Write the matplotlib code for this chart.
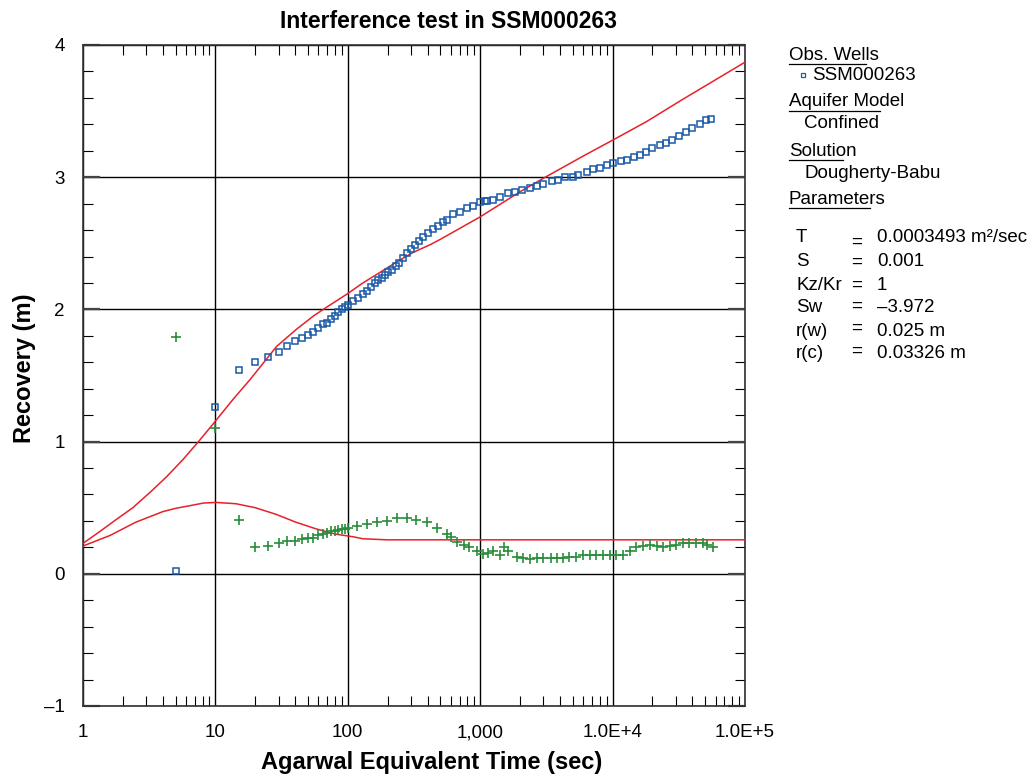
import numpy as np
import matplotlib
matplotlib.use('Agg')
import matplotlib.pyplot as plt
from matplotlib.lines import Line2D
from matplotlib.ticker import FixedLocator, FixedFormatter, NullFormatter

plt.rcParams['font.family'] = ['Liberation Sans', 'DejaVu Sans']

# ── données ────────────────────────────────────────────────────
obs_t = [5, 10, 15, 20, 25, 30, 35, 40, 45, 50, 55, 60, 65, 70, 75, 80, 85, 90, 95,
         100, 110, 120, 130, 140, 150, 160, 170, 180, 190, 200, 215, 230, 245, 260,
         280, 300, 320, 345, 370, 400, 440, 480, 520, 560, 620, 700, 790, 880, 1000,
         1080, 1120, 1250, 1400, 1620, 1830, 2080, 2360, 2680, 3000, 3500, 3900, 4400,
         5000, 5500, 6400, 7100, 8100, 9100, 10000, 11500, 12800, 14400, 16000, 18000,
         20000, 22700, 25400, 28000, 32000, 36000, 40000, 46000, 51000, 55000]
obs_y = [0.02, 1.26, 1.54, 1.60, 1.64, 1.68, 1.72, 1.76, 1.78, 1.81, 1.83, 1.86, 1.89,
         1.90, 1.93, 1.95, 1.98, 2.00, 2.02, 2.03, 2.06, 2.09, 2.12, 2.14, 2.17, 2.20,
         2.22, 2.24, 2.26, 2.28, 2.30, 2.33, 2.35, 2.39, 2.43, 2.46, 2.49, 2.52, 2.55,
         2.58, 2.61, 2.63, 2.66, 2.68, 2.72, 2.74, 2.77, 2.78, 2.81, 2.82, 2.82, 2.83,
         2.85, 2.88, 2.89, 2.90, 2.92, 2.93, 2.95, 2.97, 2.98, 3.00, 3.00, 3.02, 3.04,
         3.06, 3.07, 3.09, 3.11, 3.12, 3.13, 3.15, 3.17, 3.19, 3.22, 3.24, 3.26, 3.28,
         3.31, 3.34, 3.37, 3.40, 3.43, 3.44]

der_t = [5, 10, 15, 20, 25, 30, 35, 40, 45, 50, 55, 60, 65, 70, 75, 80, 85, 90, 95,
         100, 117, 140, 165, 197, 235, 280, 330, 395, 470, 560, 600, 670, 750, 830,
         940, 1050, 1150, 1250, 1400, 1500, 1620, 1900, 2100, 2370, 2680, 3000, 3400,
         3800, 4200, 4700, 5300, 6000, 6700, 7500, 8500, 9500, 10700, 12000, 13500,
         15000, 17000, 19000, 21500, 24000, 27000, 30000, 34000, 38000, 43000, 48000,
         52000, 57000]
der_y = [1.79, 1.10, 0.41, 0.20, 0.21, 0.23, 0.25, 0.25, 0.26, 0.27, 0.27, 0.29, 0.30,
         0.31, 0.32, 0.32, 0.33, 0.34, 0.34, 0.35, 0.36, 0.38, 0.39, 0.40, 0.42, 0.42,
         0.41, 0.39, 0.35, 0.30, 0.28, 0.24, 0.22, 0.20, 0.17, 0.15, 0.16, 0.17, 0.14,
         0.20, 0.17, 0.13, 0.12, 0.11, 0.12, 0.12, 0.12, 0.12, 0.12, 0.13, 0.13, 0.14,
         0.14, 0.14, 0.14, 0.14, 0.14, 0.14, 0.17, 0.20, 0.21, 0.22, 0.21, 0.20, 0.21,
         0.22, 0.23, 0.23, 0.23, 0.23, 0.22, 0.20]

mod_t = [1, 1.34, 1.78, 2.38, 3.2, 4.24, 5.7, 7.6, 10.1, 13.6, 18.3, 29, 41, 55, 70,
         100, 130, 175, 235, 310, 420, 500, 1000, 2000, 3100, 6000, 10000, 18000,
         34000, 50000, 100000]
mod_y = [0.23, 0.32, 0.41, 0.50, 0.615, 0.73, 0.865, 1.01, 1.16, 1.32, 1.47, 1.72, 1.85,
         1.95, 2.02, 2.12, 2.20, 2.28, 2.36, 2.43, 2.49, 2.53, 2.70, 2.89, 3.00, 3.16,
         3.28, 3.42, 3.59, 3.69, 3.87]

dmod_t = [1, 1.6, 2.5, 4.0, 5.0, 6.4, 8.1, 10.1, 14.3, 20, 28.7, 40.6, 57.6, 81, 110,
          130, 197, 100000]
dmod_y = [0.21, 0.29, 0.39, 0.47, 0.495, 0.515, 0.535, 0.54, 0.53, 0.50, 0.45, 0.39,
          0.34, 0.30, 0.28, 0.265, 0.257, 0.257]

xticks = [1, 10, 100, 1000, 1e4, 1e5]
xlabels = ['1', '10', '100', '1,000', '1.0E+4', '1.0E+5']
yticks = [-1, 0, 1, 2, 3, 4]
ylabels = ['\u20131', '0', '1', '2', '3', '4']

params = [('T', '0.0003493 m\u00b2/sec'), ('S', '0.001'), ('Kz/Kr', '1'),
          ('Sw', '\u20133.972'), ('r(w)', '0.025 m'), ('r(c)', '0.03326 m')]

BLUE = '#1a5aa8'
GREEN = '#2a8c3c'
RED = '#e8202a'

W, H = 1029, 776
fig = plt.figure(figsize=(W / 100, H / 100), dpi=100)
ax = fig.add_axes([83 / W, 1 - 706 / H, (745 - 83) / W, (706 - 45) / H])

ax.plot(mod_t, mod_y, color=RED, lw=1.1, zorder=3)
ax.plot(dmod_t, dmod_y, color=RED, lw=1.1, zorder=3)
ax.plot(obs_t, obs_y, ls='none', marker='s', ms=4.7, mfc='none', mec=BLUE, mew=1.1, zorder=4)
ax.plot(der_t, der_y, ls='none', marker='+', ms=7, color=GREEN, mew=1.2, zorder=4)

ax.set_xscale('log')
ax.set_xlim(1, 1e5)
ax.set_ylim(-1, 4)
ax.xaxis.set_major_locator(FixedLocator(xticks))
ax.xaxis.set_major_formatter(FixedFormatter(xlabels))
minors = [m * 10 ** d for d in range(5) for m in range(2, 10)]
ax.xaxis.set_minor_locator(FixedLocator(minors))
ax.xaxis.set_minor_formatter(NullFormatter())
ax.yaxis.set_major_locator(FixedLocator(yticks))
ax.yaxis.set_major_formatter(FixedFormatter(ylabels))
ax.yaxis.set_minor_locator(FixedLocator(np.arange(-1, 4.01, 0.2)))

ax.grid(which='major', color='black', lw=1.0)
ax.tick_params(axis='x', which='major', length=0, pad=13, labelsize=13.5)
ax.tick_params(axis='y', which='major', direction='in', length=12, width=1.6,
               color='#444444', left=True, right=True, pad=13, labelsize=13.5)
ax.tick_params(axis='x', which='minor', direction='in', length=7, width=0.8,
               top=True, bottom=True)
ax.tick_params(axis='y', which='minor', direction='in', length=7, width=0.8,
               left=True, right=True)
for s in ax.spines.values():
    s.set_linewidth(1.2)
    s.set_color('#333333')

fig.text(449 / W, 1 - 22 / H, 'Interference test in SSM000263', ha='center', va='center',
         fontsize=16.5, fontweight='bold')
fig.text(432 / W, 1 - 762 / H, 'Agarwal Equivalent Time (sec)', ha='center', va='center',
         fontsize=17, fontweight='bold')
fig.text(25 / W, 1 - 368 / H, 'Recovery (m)', rotation=90, ha='center', va='center',
         fontsize=17, fontweight='bold')

# ── panneau de droite ──────────────────────────────
def ftxt(x, y, s, **kw):
    return fig.text(x / W, 1 - y / H, s, va='center', fontsize=13.5, **kw)

def underline(x0, x1, y):
    fig.add_artist(Line2D([x0 / W, x1 / W], [1 - y / H, 1 - y / H], color='black', lw=0.9))

ftxt(789, 55, 'Obs. Wells')
underline(789, 866, 64)
fig.add_artist(Line2D([803 / W], [1 - 75 / H], marker='s', ms=3.5, mfc='none',
                      mec=BLUE, mew=0.9))
ftxt(812, 75, 'SSM000263')
ftxt(789, 102, 'Aquifer Model')
underline(789, 880, 111)
ftxt(804, 124, 'Confined')
ftxt(789, 151, 'Solution')
underline(789, 843, 160)
ftxt(804, 173, 'Dougherty-Babu')
ftxt(789, 199, 'Parameters')
underline(789, 870, 208)

py = [238, 262, 285, 308, 331, 354]
eq_dy = [4, 0, 0, -2, -3, -3]
for (name, val), y, dy in zip(params, py, eq_dy):
    ftxt(796, y, name)
    ftxt(851, y + dy, '=')
    ftxt(877, y, val)

fig.savefig('out.png', dpi=100)
